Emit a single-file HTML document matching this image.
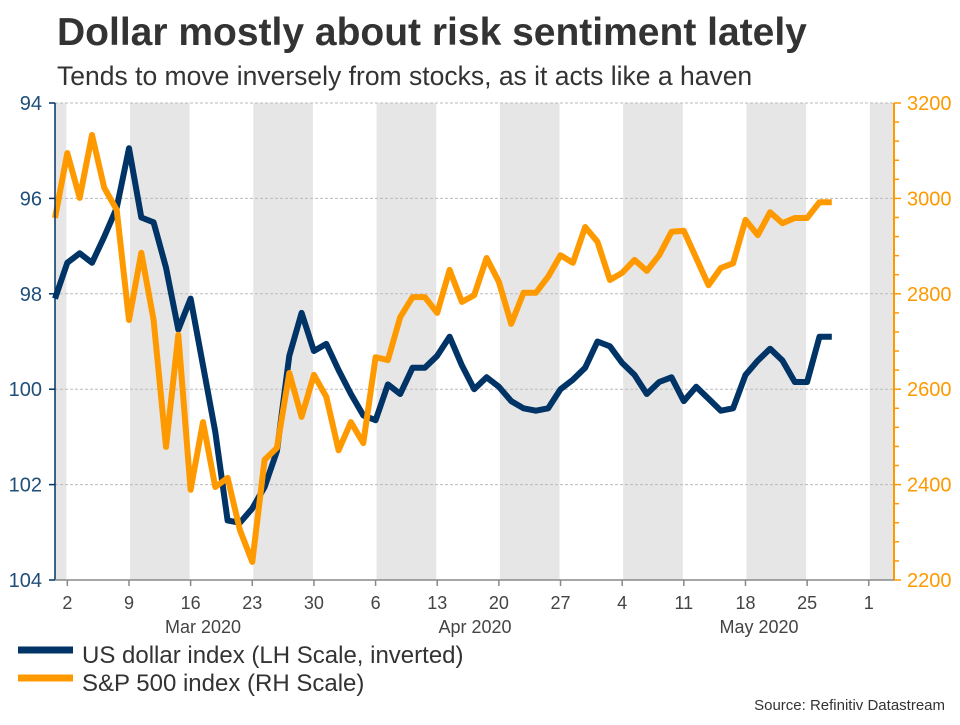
<!DOCTYPE html>
<html><head><meta charset="utf-8"><style>
html,body{margin:0;padding:0;background:#fff;}
body{width:960px;height:720px;overflow:hidden;font-family:"Liberation Sans",Arial,sans-serif;}
</style></head><body>
<svg id="chart" width="960" height="720" xmlns="http://www.w3.org/2000/svg" font-family="Liberation Sans, Arial, sans-serif">
<text x="57" y="45" font-size="39" font-weight="bold" fill="#333">Dollar mostly about risk sentiment lately</text>
<text x="57" y="85" font-size="26.5" fill="#333">Tends to move inversely from stocks, as it acts like a haven</text>
<g id="bands"></g>
<g id="grid"></g>
<g id="series"></g>
<g id="axes"></g>
<g>
<line x1="18" y1="650" x2="73" y2="650" stroke="#003366" stroke-width="7"/>
<text x="82" y="663" font-size="24" fill="#333">US dollar index (LH Scale, inverted)</text>
<line x1="18" y1="678" x2="73" y2="678" stroke="#ff9900" stroke-width="7"/>
<text x="82" y="691" font-size="24" fill="#333">S&amp;P 500 index (RH Scale)</text>
</g>
<text x="945" y="710" font-size="15" fill="#333" text-anchor="end">Source: Refinitiv Datastream</text>
</svg>
<script>
const usd = [98.1,97.35,97.15,97.35,96.8,96.2,94.95,96.4,96.5,97.45,98.75,98.1,99.5,100.9,102.75,102.8,102.5,102.05,101.3,99.3,98.4,99.2,99.05,99.6,100.1,100.55,100.65,99.9,100.1,99.55,99.55,99.3,98.9,99.5,100.0,99.75,99.95,100.25,100.4,100.45,100.4,100.0,99.8,99.55,99.0,99.1,99.45,99.7,100.1,99.85,99.75,100.25,99.95,100.2,100.45,100.4,99.7,99.4,99.15,99.4,99.85,99.85,98.9,98.9];
const spx = [2959,3095,3001,3133,3022,2976,2745,2886,2745,2479,2714,2389,2531,2395,2414,2305,2238,2452,2477,2634,2542,2630,2584,2472,2531,2487,2667,2661,2751,2793,2793,2760,2850,2783,2797,2875,2825,2737,2802,2802,2836,2881,2865,2940,2909,2829,2844,2871,2848,2881,2930,2932,2875,2818,2854,2864,2955,2923,2971,2948,2959,2959,2992,2992];
const weekLabels = ["2","9","16","23","30","6","13","20","27","4","11","18","25","1"];
const monthLabels = ["Mar 2020","Apr 2020","May 2020"];
const leftTicks = [94,96,98,100,102,104];
const rightTicks = [2200,2400,2600,2800,3000,3200];

const NS="http://www.w3.org/2000/svg";
const L=55,R=894,T=103,B=580;
const step=12.33, x0=55;
const xIdx=i=>x0+i*step;
const xWeek=w=>xIdx(1+5*w);
const yL=v=>T+(v-94)/10*(B-T);
const yR=v=>T+(3200-v)/1000*(B-T);
function mk(tag,attrs,parent){const e=document.createElementNS(NS,tag);for(const k in attrs)e.setAttribute(k,attrs[k]);parent.appendChild(e);return e;}
const bands=document.getElementById('bands'),grid=document.getElementById('grid'),series=document.getElementById('series'),axes=document.getElementById('axes');

let r=mk('rect',{x:L,y:T,width:xWeek(0)-L-1,height:B-T,fill:'#e6e6e6'},bands);


for(let w=1;w<weekLabels.length;w+=2){
  const a=xWeek(w)+1,b=Math.min(R,xWeek(w+1)-1);
  const rr=mk('rect',{x:a,y:T,width:b-a,height:B-T,fill:'#e6e6e6'},bands);
  
  
}
leftTicks.forEach(v=>{
  if(v===104)return;
  const g=mk('line',{x1:L,x2:R,y1:yL(v),y2:yL(v),stroke:'#bbb','stroke-dasharray':'3,2','stroke-width':1},grid);
  
  
});
function line(arr,yf,color,name){
  const d=arr.map((v,i)=>(i?'L':'M')+xIdx(i).toFixed(1)+','+yf(v).toFixed(1)).join(' ');
  const p=mk('path',{d:d,fill:'none',stroke:color,'stroke-width':6,'stroke-linejoin':'round','stroke-linecap':'butt'},series);
  
  
}
line(usd,yL,'#003366','usd-line');
line(spx,yR,'#ff9900','spx-line');

let ax=mk('line',{x1:L,x2:L,y1:T,y2:B,stroke:'#003366','stroke-width':1.5},axes);


leftTicks.forEach(v=>{
  mk('line',{x1:L-6,x2:L,y1:yL(v),y2:yL(v),stroke:'#003366','stroke-width':1.5},axes);
  const t=mk('text',{x:L-13,y:yL(v)+7,'font-size':20,fill:'#1f4e79','text-anchor':'end'},axes);
  t.textContent=v;
  
  
});
ax=mk('line',{x1:R,x2:R,y1:T,y2:B,stroke:'#ff9900','stroke-width':2},axes);


for(let v=2200;v<=3200;v+=40){mk('line',{x1:R,x2:R+(v%200===0?7:5),y1:yR(v),y2:yR(v),stroke:'#ff9900','stroke-width':1.5},axes);}
rightTicks.forEach(v=>{
  const t=mk('text',{x:R+13,y:yR(v)+7,'font-size':20,fill:'#ff9900'},axes);
  t.textContent=v;
  
  
});
ax=mk('line',{x1:L,x2:R,y1:B,y2:B,stroke:'#888','stroke-width':1.5},axes);


weekLabels.forEach((s,w)=>{
  const x=xWeek(w);
  mk('line',{x1:x,x2:x,y1:B,y2:B+6,stroke:'#888','stroke-width':1.5},axes);
  const t=mk('text',{x:x,y:B+29,'font-size':18,fill:'#444','text-anchor':'middle'},axes);
  t.textContent=s;
  
  
});
monthLabels.forEach((s,m)=>{
  const t=mk('text',{x:[203,475,759][m],y:B+53,'font-size':18,fill:'#444','text-anchor':'middle'},axes);
  t.textContent=s;
  
  
});
</script>
</body></html>
